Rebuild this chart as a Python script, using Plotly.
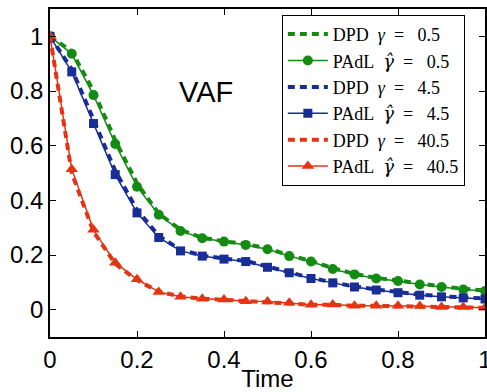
import plotly.graph_objects as go

time = [0.0, 0.05, 0.10, 0.15, 0.20, 0.25, 0.30, 0.35, 0.40, 0.45, 0.50,
        0.55, 0.60, 0.65, 0.70, 0.75, 0.80, 0.85, 0.90, 0.95, 1.00]

padl_05 = [1.0, 0.936, 0.785, 0.606, 0.450, 0.347, 0.288, 0.261, 0.249, 0.237, 0.221,
           0.196, 0.176, 0.149, 0.129, 0.114, 0.105, 0.092, 0.083, 0.074, 0.068]
dpd_05 = [1.0, 0.945, 0.800, 0.620, 0.462, 0.352, 0.292, 0.263, 0.250, 0.240, 0.224,
          0.199, 0.178, 0.152, 0.131, 0.116, 0.107, 0.095, 0.085, 0.077, 0.070]

padl_45 = [1.0, 0.870, 0.681, 0.494, 0.354, 0.264, 0.215, 0.196, 0.185, 0.176, 0.155,
           0.135, 0.114, 0.098, 0.083, 0.072, 0.062, 0.053, 0.047, 0.043, 0.039]
dpd_45 = [1.0, 0.880, 0.695, 0.508, 0.365, 0.270, 0.219, 0.198, 0.187, 0.178, 0.158,
          0.138, 0.116, 0.100, 0.085, 0.074, 0.064, 0.055, 0.049, 0.045, 0.041]

padl_405 = [1.0, 0.514, 0.292, 0.172, 0.111, 0.065, 0.047, 0.040, 0.037, 0.031, 0.030,
            0.025, 0.018, 0.019, 0.014, 0.014, 0.014, 0.013, 0.010, 0.010, 0.007]
dpd_405 = [1.0, 0.500, 0.285, 0.168, 0.108, 0.066, 0.048, 0.040, 0.036, 0.031, 0.029,
           0.024, 0.018, 0.018, 0.014, 0.014, 0.013, 0.012, 0.010, 0.009, 0.007]

tick_vals = [0, 0.2, 0.4, 0.6, 0.8, 1]
tick_text = ["0", "0.2", "0.4", "0.6", "0.8", "1"]

green = "rgb(20,140,20)"
blue = "rgb(25,45,150)"
red = "rgb(228,52,20)"

SP = "\u00a0"
G = "<i>γ</i>"
GH = '<span style="font-family:DejaVu Serif"><i>γ̂</i></span>'

fig = go.Figure()

def add_pair(dpd, padl, color, val, symbol, msize):
    fig.add_trace(go.Scatter(x=time, y=dpd, mode="lines",
                             name=f"DPD{SP}{SP}{G}{SP}{SP}={SP}{SP}{SP}{val}",
                             line=dict(color=color, width=4, dash="7px,5px")))
    fig.add_trace(go.Scatter(x=time, y=padl, mode="lines+markers",
                             name=f"PAdL{SP}{SP}{GH}{SP}{SP}={SP}{SP}{SP}{val}",
                             line=dict(color=color, width=1.5),
                             marker=dict(color=color, symbol=symbol, size=msize)))

add_pair(dpd_05, padl_05, green, "0.5", "circle", 10)
add_pair(dpd_45, padl_45, blue, "4.5", "square", 9)
add_pair(dpd_405, padl_405, red, "40.5", "triangle-up", 11)

fig.add_annotation(x=0.359, y=0.796, text="VAF", showarrow=False,
                   font=dict(family="Liberation Sans, Arial", size=29, color="black"))

axis_common = dict(showgrid=False, zeroline=False, showline=True, linecolor="black",
                   linewidth=1.5, mirror="ticks", ticks="inside", ticklen=6,
                   tickcolor="black", tickwidth=1, automargin=False,
                   ticklabeloverflow="allow",
                   tickfont=dict(family="Liberation Sans, Arial", size=24, color="black"))

fig.update_xaxes(range=[0, 1], tickvals=tick_vals, ticktext=tick_text,
                 title=dict(text="Time", standoff=4,
                            font=dict(family="Liberation Sans, Arial", size=24, color="black")),
                 **axis_common)
fig.update_yaxes(range=[-0.1, 1.1], tickvals=tick_vals, ticktext=tick_text,
                 **axis_common)

fig.update_layout(
    width=487, height=392,
    margin=dict(l=50, r=2, t=9, b=55),
    plot_bgcolor="white", paper_bgcolor="white",
    legend=dict(x=0.533, y=0.982, xanchor="left", yanchor="top",
                bgcolor="white", bordercolor="black", borderwidth=1,
                font=dict(family="Liberation Serif, DejaVu Serif", size=18, color="black"),
                tracegroupgap=0, itemwidth=40),
)

fig.write_html("out.html", config={"displayModeBar": False},
               post_script="document.body.style.margin='0';document.body.style.overflow='hidden';")
